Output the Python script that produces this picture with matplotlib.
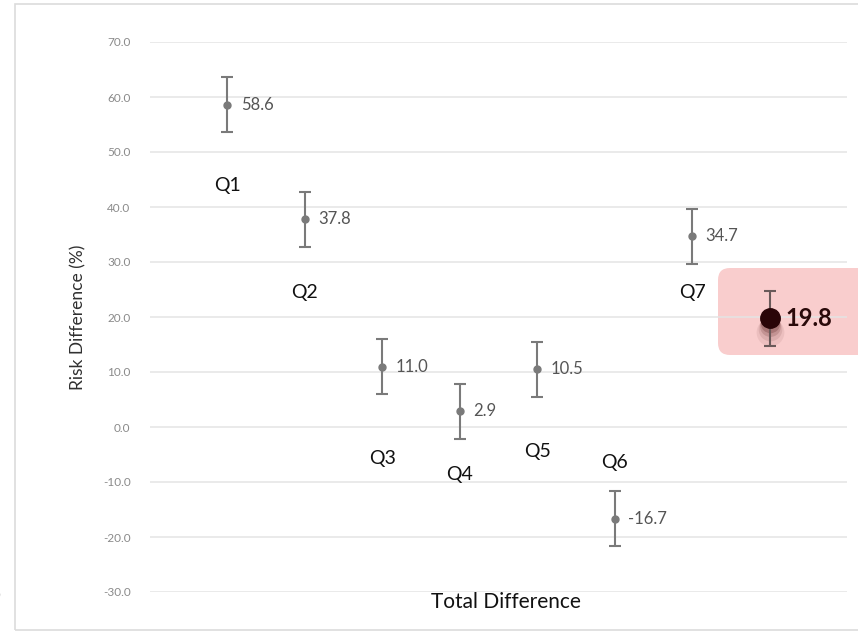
import matplotlib
matplotlib.use("Agg")
import matplotlib.pyplot as plt
from matplotlib.patches import FancyBboxPatch, Rectangle

plt.rcParams['font.family'] = ['Lato', 'DejaVu Sans']

# Risk differences per question and overall
categories = ["Q1", "Q2", "Q3", "Q4", "Q5", "Q6", "Q7", "Total Difference"]
values = [58.6, 37.8, 11.0, 2.9, 10.5, -16.7, 34.7, 19.8]
errors = [5.0, 5.0, 5.0, 5.0, 5.0, 5.0, 5.0, 5.0]
# vertical placement of each category name
name_y = [44.0, 24.4, -5.8, -8.7, -4.5, -6.4, 24.4, -31.8]
yticks = [70, 60, 50, 40, 30, 20, 10, 0, -10, -20, -30]

W, H = 858, 633
fig = plt.figure(figsize=(W / 100, H / 100), dpi=100)
fig.patch.set_facecolor("white")

# outer chart frame
fig.patches.append(Rectangle((15 / W, 1 - 630 / H), 900 / W, 626 / H,
                             transform=fig.transFigure, fill=False,
                             edgecolor="#dcdcdc", linewidth=1.2, zorder=-2))

# highlight box behind the overall estimate (rounded, runs off the right edge)
fig.patches.append(FancyBboxPatch((718 / W, 1 - 355 / H), 160 / W, 87 / H,
                                  boxstyle=f"round,pad=0,rounding_size={12 / W}",
                                  mutation_aspect=W / H,
                                  transform=fig.transFigure,
                                  facecolor="#f9cdcd", edgecolor="none", zorder=-1))

ax = fig.add_axes([150 / W, 1 - 592 / H, 697 / W, 550 / H])
ax.patch.set_alpha(0)
ax.set_xlim(0, 9)
ax.set_ylim(-30, 70)
for s in ax.spines.values():
    s.set_visible(False)
ax.set_xticks([])
ax.set_yticks(yticks)
ax.set_yticklabels([f"{v:.1f}" for v in yticks], fontsize=8.5, color="#8a8a8a")
ax.tick_params(axis="y", length=0, pad=14)
ax.yaxis.grid(True, color="#e4e4e4", linewidth=1.1)
ax.set_axisbelow(True)
ax.set_ylabel("Risk Difference (%)", fontsize=12.5, color="#303030", labelpad=12)

n = len(categories)
xt = n
gray = "#7a7a7a"
for i in range(n - 1):
    x = i + 1
    ax.errorbar(x, values[i], yerr=errors[i], fmt="o", color=gray,
                markersize=5, elinewidth=1.5, capsize=4.5, capthick=1.5, zorder=3)
    ax.text(x + 0.17, values[i], f"{values[i]:.1f}", fontsize=12,
            color="#555555", va="center", ha="left")
    ax.text(x, name_y[i], categories[i], fontsize=14,
            color="#111111", ha="center", va="center")

# overall estimate, drawn larger with a soft shadow beneath it
v = values[-1]
for dy, a, ms in [(-2.6, 0.07, 20), (-2.0, 0.10, 17), (-1.4, 0.16, 15), (-0.8, 0.22, 14)]:
    ax.plot(xt, v + dy, "o", color="#4a1010", alpha=a,
            markersize=ms, markeredgewidth=0, zorder=3, clip_on=False)
ax.errorbar(xt, v, yerr=errors[-1], fmt="none", ecolor="#6a5a5a",
            elinewidth=1.5, capsize=4.5, capthick=1.5, zorder=3, clip_on=False)
ax.plot(xt, v, "o", color="#2a0508", markersize=14, zorder=4, clip_on=False)
ax.text(xt + 0.2, v, f"{v:.1f}", fontsize=17, fontweight="bold",
        color="#2a0a0a", va="center", ha="left", zorder=5, clip_on=False)
ax.text(4.6, name_y[-1], categories[-1], fontsize=15,
        color="#111111", ha="center", va="center", clip_on=False)

fig.text(-3 / W, 1 - 595 / H, ")", fontsize=10, color="#222222",
         ha="left", va="center")

fig.savefig("out.png", dpi=100)
